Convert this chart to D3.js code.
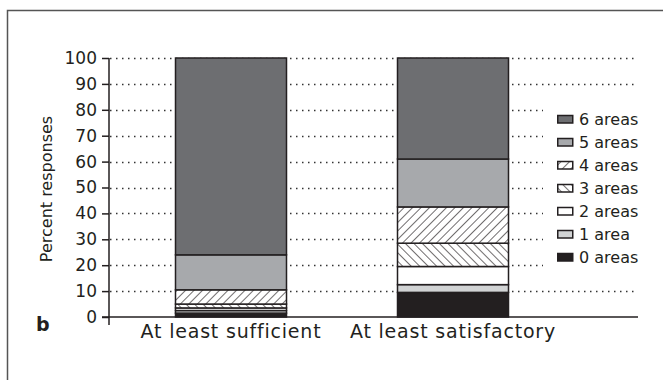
<!DOCTYPE html>
<html>
<head>
<meta charset="utf-8">
<script src="https://cdn.jsdelivr.net/npm/d3@7"></script>
<style>
  html, body { margin: 0; padding: 0; background: #fff; }
  svg { display: block; font-family: "DejaVu Sans", "Noto Sans", sans-serif; }
</style>
</head>
<body>
<svg id="chart" width="663" height="380"></svg>
<script>
// Response categories (x axis)
const categories = ["At least sufficient", "At least satisfactory"];
// Stack series, bottom to top
const seriesNames = ["0 areas", "1 area", "2 areas", "3 areas", "4 areas", "5 areas", "6 areas"];
// Percent of responses per series, one value per category
const values0 = [1.5, 9.5];
const values1 = [1.0, 3.0];
const values2 = [1.0, 7.0];
const values3 = [1.5, 9.0];
const values4 = [5.5, 14.0];
const values5 = [13.5, 18.5];
const values6 = [76.0, 39.0];
const yTicks = [0, 10, 20, 30, 40, 50, 60, 70, 80, 90, 100];

const seriesValues = [values0, values1, values2, values3, values4, values5, values6];
const rows = categories.map((c, i) => {
  const r = { category: c };
  seriesNames.forEach((s, k) => { r[s] = seriesValues[k][i]; });
  return r;
});

const svg = d3.select("#chart");
const ink = "#231f20";
const fontFamily = "\"DejaVu Sans\", sans-serif";

// Fill patterns for hatched series
const defs = svg.append("defs");
function hatch(id, dir) {
  const p = defs.append("pattern")
    .attr("id", id).attr("patternUnits", "userSpaceOnUse")
    .attr("width", 6).attr("height", 6)
    .attr("patternTransform", `rotate(${dir > 0 ? 45 : -45})`);
  p.append("rect").attr("width", 6).attr("height", 6).attr("fill", "#fff");
  p.append("line").attr("x1", 0).attr("y1", 0).attr("x2", 0).attr("y2", 6)
    .attr("stroke", ink).attr("stroke-width", 1.3);
}
hatch("hatch4", 1);
hatch("hatch3", -1);

const fills = {
  "0 areas": ink,
  "1 area": "#d1d3d4",
  "2 areas": "#ffffff",
  "3 areas": "url(#hatch3)",
  "4 areas": "url(#hatch4)",
  "5 areas": "#a7a9ac",
  "6 areas": "#6d6e71"
};

// Outer panel frame
svg.append("path")
  .attr("d", "M7.5,390 V10.5 H670")
  .attr("fill", "none").attr("stroke", "#555").attr("stroke-width", 1.5);

const plotLeft = 109, plotRight = 638;
const y = d3.scaleLinear().domain([0, 100]).range([317, 58]);
const x = d3.scaleBand().domain(categories).range([120, 564]).paddingInner(0.5).paddingOuter(0.25);

// Dotted gridlines
svg.append("g").selectAll("line")
  .data(yTicks.filter(t => t > 0))
  .join("line")
  .attr("x1", plotLeft + 1).attr("x2", plotRight)
  .attr("y1", d => Math.round(y(d)) + 0.5).attr("y2", d => Math.round(y(d)) + 0.5)
  .attr("stroke", "#333").attr("stroke-width", 1.3)
  .attr("stroke-dasharray", "1.5,4.5");

// Stacked bars
const stack = d3.stack().keys(seriesNames)(rows);
svg.append("g").selectAll("g")
  .data(stack)
  .join("g")
  .attr("fill", d => fills[d.key])
  .selectAll("rect")
  .data(d => d)
  .join("rect")
  .attr("x", d => x(d.data.category))
  .attr("width", x.bandwidth())
  .attr("y", d => y(d[1]))
  .attr("height", d => y(d[0]) - y(d[1]))
  .attr("stroke", ink).attr("stroke-width", 1.5);

// Y axis
const yAxis = d3.axisLeft(y).tickValues(yTicks).tickSize(7).tickPadding(5);
const gy = svg.append("g").attr("transform", `translate(${plotLeft},0)`).call(yAxis);
gy.select(".domain").remove();
gy.append("line").attr("x1", 0).attr("x2", 0).attr("y1", 58).attr("y2", 325)
  .attr("stroke", ink).attr("stroke-width", 1.5);
gy.selectAll(".tick line").attr("stroke", ink).attr("stroke-width", 1.5);
gy.selectAll(".tick text").attr("fill", ink).style("font-size", "17px")
  .attr("font-family", fontFamily);

// X axis
const xAxis = d3.axisBottom(x).tickSize(0).tickPadding(8);
const gx = svg.append("g").attr("transform", "translate(0,317)").call(xAxis);
gx.select(".domain").remove();
gx.append("line").attr("x1", plotLeft - 7).attr("x2", plotRight).attr("y1", 0).attr("y2", 0)
  .attr("stroke", ink).attr("stroke-width", 1.5);
gx.selectAll(".tick text").attr("fill", ink).style("font-size", "19px")
  .style("letter-spacing", "0.8px")
  .attr("font-family", fontFamily);

// Y axis title
svg.append("text")
  .attr("transform", "translate(52,189) rotate(-90)")
  .attr("text-anchor", "middle")
  .attr("fill", ink).style("font-size", "16px")
  .text("Percent responses");

// Panel letter
svg.append("text")
  .attr("x", 36).attr("y", 331)
  .attr("fill", ink).style("font-size", "19px").style("font-weight", "bold")
  .text("b");

// Legend, top entry = top of stack, on a white backing
svg.append("rect")
  .attr("x", 543).attr("y", 100).attr("width", 96).attr("height", 170)
  .attr("fill", "#fff");
const legend = svg.append("g").selectAll("g")
  .data(seriesNames.slice().reverse())
  .join("g")
  .attr("transform", (d, i) => `translate(557,${119 + i * 23})`);
legend.append("rect")
  .attr("x", 0.75).attr("y", -3.5).attr("width", 15).attr("height", 7.5)
  .attr("fill", d => fills[d]).attr("stroke", ink).attr("stroke-width", 1.5);
legend.append("text")
  .attr("x", 22).attr("y", 0).attr("dy", "0.36em")
  .attr("fill", ink).style("font-size", "16px")
  .text(d => d);
</script>
</body>
</html>
